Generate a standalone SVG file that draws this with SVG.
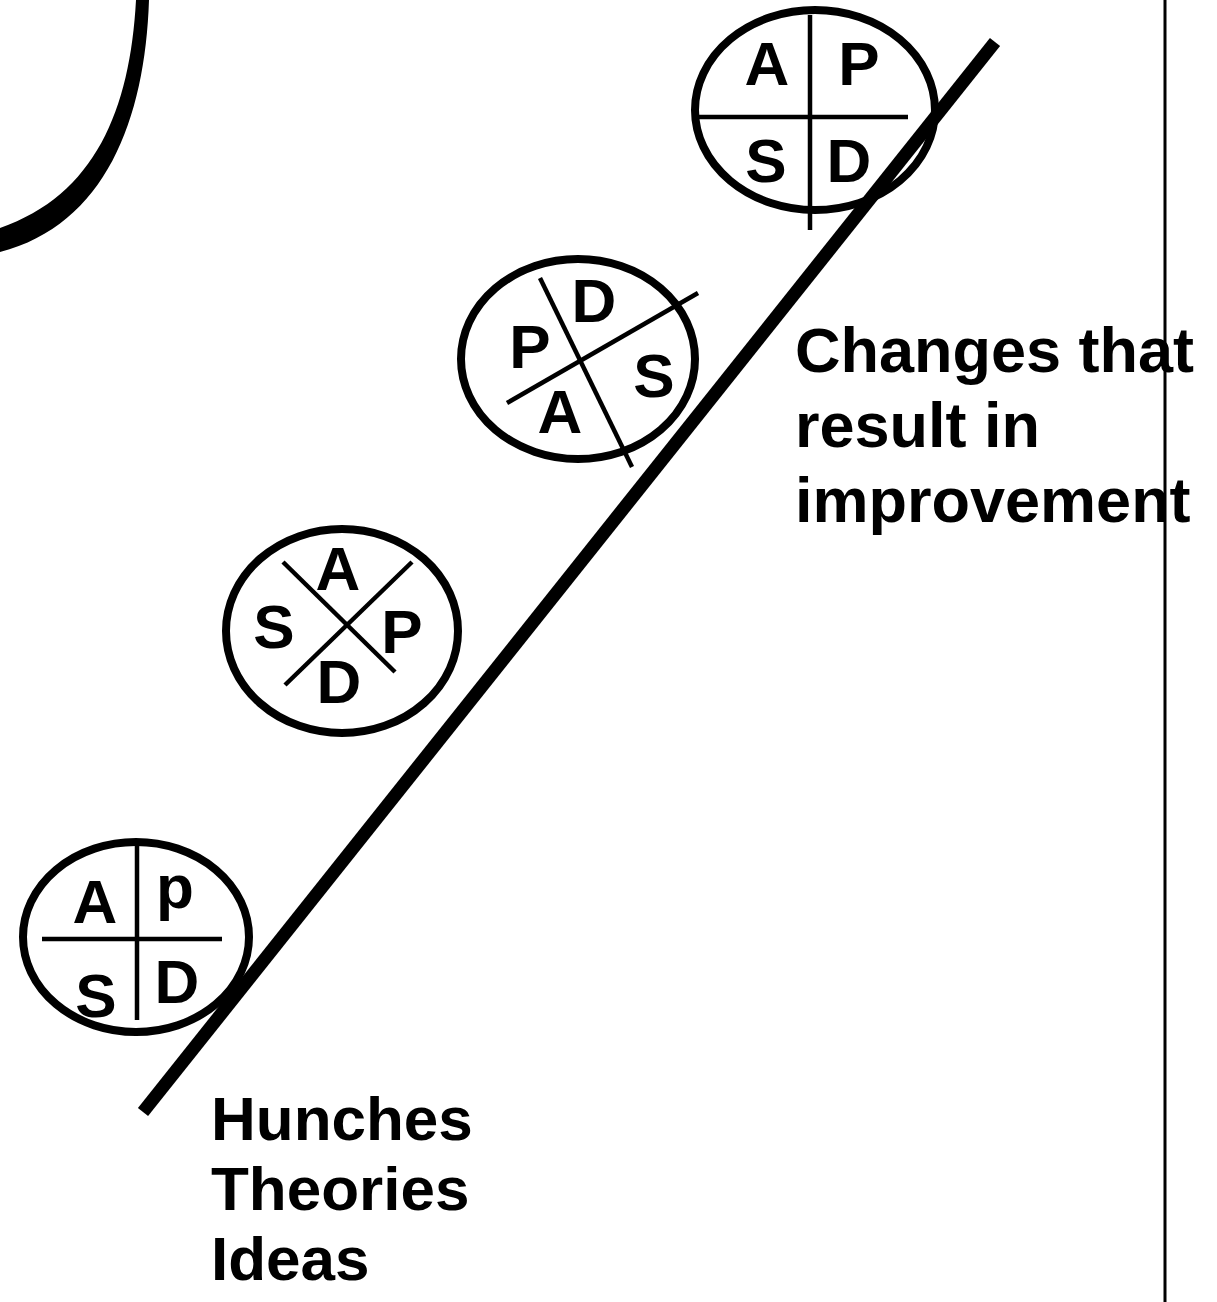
<svg xmlns="http://www.w3.org/2000/svg" width="1217" height="1302" viewBox="0 0 1217 1302">
<style>
.ring{fill:none;stroke:#000;stroke-width:8}
.div{stroke:#000;stroke-width:4.5;fill:none}
.lt{font-family:"Liberation Sans",Arial,sans-serif;font-weight:bold;font-size:62px;fill:#000;text-anchor:middle}
.lbl{font-family:"Liberation Sans",Arial,sans-serif;font-weight:bold;font-size:62px;fill:#000}
</style>
<rect width="1217" height="1302" fill="#fff"/>
<g id="arc">
<path d="M136 0 C130 110 95 195 0 228 L0 252 C105 225 145 120 149 0 Z" fill="#000"/>
</g>
<g id="connectors">
<line x1="143" y1="1112" x2="995" y2="42" stroke="#000" stroke-width="13"/>
<line x1="1165" y1="0" x2="1165" y2="1302" stroke="#000" stroke-width="3"/>
</g>
<g id="cycle-top">
<ellipse class="ring" cx="815" cy="110" rx="120" ry="100"/>
<line class="div" x1="810" y1="15" x2="810" y2="230"/>
<line class="div" x1="697" y1="117" x2="908" y2="117"/>
<text class="lt" x="767" y="85">A</text>
<text class="lt" x="859" y="85">P</text>
<text class="lt" x="766" y="182">S</text>
<text class="lt" x="849" y="182">D</text>
</g>
<g id="cycle-2">
<ellipse class="ring" cx="578" cy="359" rx="117" ry="100"/>
<line class="div" x1="540" y1="278" x2="632" y2="467"/>
<line class="div" x1="507" y1="403" x2="698" y2="293"/>
<text class="lt" x="594" y="322">D</text>
<text class="lt" x="530" y="368">P</text>
<text class="lt" x="560" y="433">A</text>
<text class="lt" x="654" y="397">S</text>
</g>
<g id="cycle-3">
<ellipse class="ring" cx="342" cy="631" rx="116" ry="102"/>
<line class="div" x1="283" y1="562" x2="395" y2="672"/>
<line class="div" x1="285" y1="685" x2="412" y2="562"/>
<text class="lt" x="338" y="590">A</text>
<text class="lt" x="274" y="648">S</text>
<text class="lt" x="402" y="653">P</text>
<text class="lt" x="339" y="703">D</text>
</g>
<g id="cycle-bottom">
<ellipse class="ring" cx="136" cy="937" rx="113" ry="95"/>
<line class="div" x1="137" y1="845" x2="137" y2="1020"/>
<line class="div" x1="42" y1="939" x2="222" y2="939"/>
<text class="lt" x="95" y="923">A</text>
<text class="lt" x="175" y="908">p</text>
<text class="lt" x="96" y="1017">S</text>
<text class="lt" x="177" y="1003">D</text>
</g>
<g id="label-top">
<text class="lbl" x="795" y="372" style="font-size:63px">Changes that</text>
<text class="lbl" x="795" y="447" style="font-size:63px">result in</text>
<text class="lbl" x="795" y="522" style="font-size:63px">improvement</text>
</g>
<g id="label-bottom">
<text class="lbl" x="211" y="1140">Hunches</text>
<text class="lbl" x="211" y="1210">Theories</text>
<text class="lbl" x="211" y="1280">Ideas</text>
</g>
</svg>
